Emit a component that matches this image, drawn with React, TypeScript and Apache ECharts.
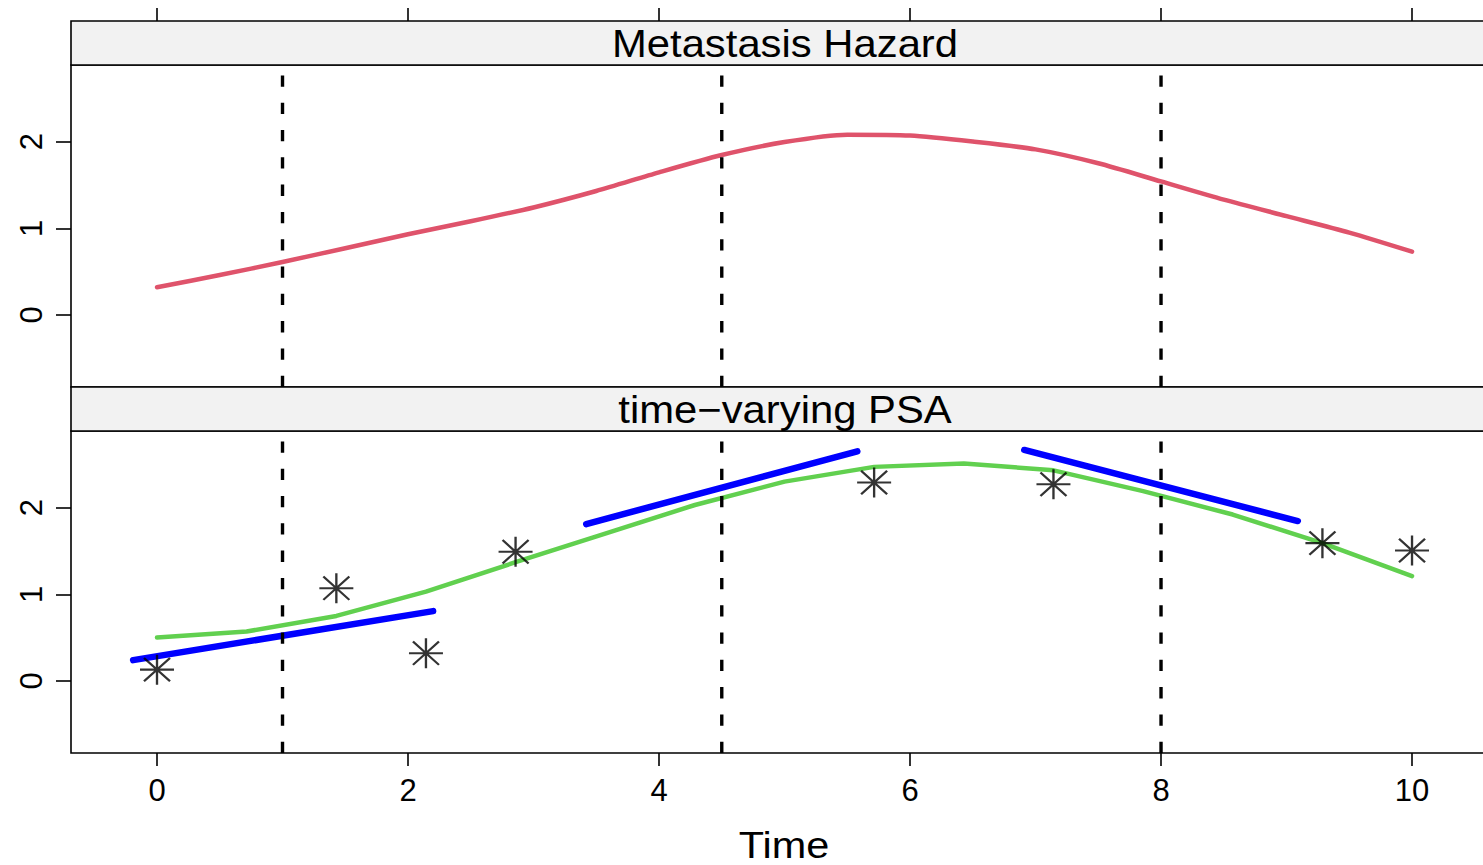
import React, { useEffect, useRef } from "react";
import * as echarts from "echarts";

// ---- data ----
const xTicks = [0, 2, 4, 6, 8, 10];
const yTicks = [0, 1, 2];
const cutTimes = [1, 4.5, 8];
const panelTitles = ["Metastasis Hazard", "time\u2212varying PSA"];
const xTitle = "Time";

// Metastasis hazard curve (top panel)
const hazardT = [0, 0.5, 1, 1.5, 2, 2.5, 3, 3.5, 4, 4.5, 5, 5.5, 6, 6.5, 7, 7.5, 8, 8.5, 9, 9.5, 10];
const hazardV = [0.32, 0.46, 0.61, 0.77, 0.93, 1.08, 1.24, 1.43, 1.645, 1.845, 1.995, 2.08, 2.07, 2.0, 1.91, 1.75, 1.54, 1.33, 1.14, 0.95, 0.73];

// Fitted PSA trajectory (bottom panel, green)
const psaT = [0, 0.714, 1.429, 2.143, 2.857, 3.571, 4.286, 5.0, 5.714, 6.429, 7.143, 7.857, 8.571, 9.286, 10];
const psaFit = [0.5, 0.57, 0.75, 1.03, 1.37, 1.7, 2.03, 2.3, 2.47, 2.51, 2.43, 2.19, 1.92, 1.59, 1.21];

// Observed PSA (asterisks)
const obsT = [0, 1.429, 2.143, 2.857, 5.714, 7.143, 9.286, 10];
const obsV = [0.13, 1.07, 0.32, 1.49, 2.29, 2.27, 1.59, 1.505];

// Local linear PSA segments (blue)
const blueStartT = [-0.19, 3.42, 6.91];
const blueStartV = [0.24, 1.81, 2.665];
const blueEndT = [2.2, 5.58, 9.09];
const blueEndV = [0.805, 2.65, 1.845];

// ---- layout ----
const VIEW_W = 1483;
const VIEW_H = 865;
const CHART_W = 1520;
const LEFT = 71;
const PANEL_W = 1428;
const STRIP_H = 44;
const PANEL_H = 322;
const STRIP1_TOP = 21;
const STRIP2_TOP = STRIP1_TOP + STRIP_H + PANEL_H;
const X_MIN = -0.6853;
const X_MAX = 10.693;
const Y_MIN = -0.832;
const Y_MAX = 2.884;
const FONT = "'Liberation Sans', Arial, Helvetica, sans-serif";

const asteriskPath =
  "path://M0,15 L34,15 M17,0 L17,30 M4,3.3 L30,26.7 M4,26.7 L30,3.3";

function buildOption() {
  const grids = [0, 1].map((i) => ({
    left: LEFT,
    top: (i === 0 ? STRIP1_TOP : STRIP2_TOP) + STRIP_H,
    width: PANEL_W,
    height: PANEL_H,
    show: true,
    borderColor: "#000",
    borderWidth: 1.6,
    backgroundColor: "transparent",
  }));

  const tickStyle = { color: "#000", width: 1.6 };

  const xAxes = [
    {
      gridIndex: 0,
      type: "value",
      position: "top",
      offset: STRIP_H,
      min: X_MIN,
      max: X_MAX,
      axisLine: { show: false, onZero: false },
      axisTick: { show: true, inside: false, length: 13, customValues: xTicks, lineStyle: tickStyle },
      axisLabel: { show: false },
      splitLine: { show: false },
    },
    {
      gridIndex: 1,
      type: "value",
      position: "bottom",
      min: X_MIN,
      max: X_MAX,
      axisLine: { show: false, onZero: false },
      axisTick: { show: true, inside: false, length: 13, customValues: xTicks, lineStyle: tickStyle },
      axisLabel: { show: true, customValues: xTicks, fontSize: 31, color: "#000", margin: 22, fontFamily: FONT },
      splitLine: { show: false },
    },
  ];

  const yAxes = [0, 1].map((i) => ({
    gridIndex: i,
    type: "value",
    position: "left",
    min: Y_MIN,
    max: Y_MAX,
    axisLine: { show: false, onZero: false },
    axisTick: { show: true, inside: false, length: 15, customValues: yTicks, lineStyle: tickStyle },
    axisLabel: { show: true, customValues: yTicks, rotate: 90, fontSize: 31, color: "#000", margin: 24, fontFamily: FONT },
    splitLine: { show: false },
  }));

  const series: any[] = [];

  series.push({
    type: "line",
    xAxisIndex: 0,
    yAxisIndex: 0,
    data: hazardT.map((t, i) => [t, hazardV[i]]),
    symbol: "none",
    smooth: 0.25,
    lineStyle: { color: "#DF536B", width: 4.5, cap: "round", join: "round" },
    z: 2,
    silent: true,
  });

  series.push({
    type: "line",
    xAxisIndex: 1,
    yAxisIndex: 1,
    data: psaT.map((t, i) => [t, psaFit[i]]),
    symbol: "none",
    lineStyle: { color: "#61D04F", width: 4.5, cap: "round", join: "round" },
    z: 2,
    silent: true,
  });

  blueStartT.forEach((t0, i) => {
    series.push({
      type: "line",
      xAxisIndex: 1,
      yAxisIndex: 1,
      data: [
        [t0, blueStartV[i]],
        [blueEndT[i], blueEndV[i]],
      ],
      symbol: "none",
      lineStyle: { color: "#0000FF", width: 6.5, cap: "round" },
      z: 3,
      silent: true,
    });
  });

  series.push({
    type: "scatter",
    xAxisIndex: 1,
    yAxisIndex: 1,
    data: obsT.map((t, i) => [t, obsV[i]]),
    symbol: asteriskPath,
    symbolSize: [34, 30],
    symbolKeepAspect: false,
    itemStyle: { color: "rgba(0,0,0,0)", borderColor: "#000", borderWidth: 2.2 },
    z: 4,
    silent: true,
  });

  [0, 1].forEach((p) => {
    cutTimes.forEach((c) => {
      series.push({
        type: "line",
        xAxisIndex: p,
        yAxisIndex: p,
        data: [
          [c, Y_MIN],
          [c, Y_MAX],
        ],
        symbol: "none",
        lineStyle: { color: "#000", width: 3.4, type: [11.3, 16], cap: "butt" },
        z: 5,
        silent: true,
      });
    });
  });

  const graphic: any[] = [];
  [STRIP1_TOP, STRIP2_TOP].forEach((top, i) => {
    graphic.push({
      type: "rect",
      shape: { x: LEFT, y: top, width: PANEL_W, height: STRIP_H },
      style: { fill: "#F2F2F2", stroke: "#000", lineWidth: 1.6 },
      z: 10,
      silent: true,
    });
    graphic.push({
      type: "text",
      x: 785,
      y: top + 22.7,
      scaleX: 1.1,
      style: {
        text: panelTitles[i],
        fontSize: 38,
        fontFamily: FONT,
        fill: "#000",
        align: "center",
        verticalAlign: "middle",
      },
      z: 11,
      silent: true,
    });
  });
  graphic.push({
    type: "text",
    x: 784,
    y: 845,
    scaleX: 1.12,
    style: {
      text: xTitle,
      fontSize: 37,
      fontFamily: FONT,
      fill: "#000",
      align: "center",
      verticalAlign: "middle",
    },
    z: 11,
    silent: true,
  });

  return {
    animation: false,
    backgroundColor: "#fff",
    grid: grids,
    xAxis: xAxes,
    yAxis: yAxes,
    series,
    graphic,
  };
}

export default function App() {
  const ref = useRef<HTMLDivElement>(null);
  useEffect(() => {
    if (!ref.current) return;
    const chart = echarts.init(ref.current, null, { renderer: "svg" });
    chart.setOption(buildOption() as any);
    return () => chart.dispose();
  }, []);
  return (
    <div
      style={{
        position: "fixed",
        left: 0,
        top: 0,
        width: VIEW_W,
        height: VIEW_H,
        overflow: "hidden",
        background: "#fff",
      }}
    >
      <div ref={ref} style={{ width: CHART_W, height: VIEW_H }} />
    </div>
  );
}
